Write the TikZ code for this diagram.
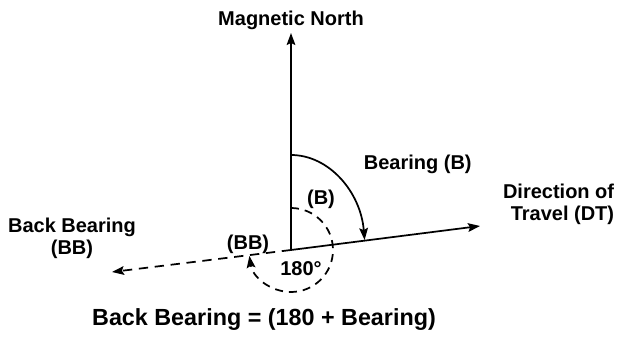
\documentclass[tikz,border=0pt]{standalone}
\usepackage{fontspec}
\setmainfont{Liberation Sans}
\usetikzlibrary{arrows.meta}
\begin{document}
\begin{tikzpicture}[x=0.75pt, y=0.75pt, line width=1.3pt,
    tip/.style = {-{Stealth[length=9pt, width=6.5pt, inset=1.5pt]}},
    lbl/.style = {font=\fontsize{15}{17}\selectfont\bfseries, inner sep=0pt}]
  \useasboundingbox (0,0) rectangle (617,339);
  % origin and the three directions
  \coordinate (O) at (291,89);
  \coordinate (N) at (291,306);
  \coordinate (DT) at (480,113);
  \coordinate (BB) at (112,67);
  \draw [tip] (O) -- (N);
  \draw [tip] (O) -- (DT);
  \draw [tip, dash pattern = on 7pt off 5pt] (O) -- (BB);
  % bearing and back bearing arcs
  \draw [tip] (O) ++(0,95) arc [start angle = 90, end angle = 6,
                                x radius = 74, y radius = 95];
  \draw [tip, dash pattern = on 6pt off 4.5pt] (O) ++(0,42)
    arc [start angle = 90, end angle = -172, radius = 42];
  % labels
  \node [lbl, anchor = base] (mn) at (291,313) {Magnetic North};
  \node [lbl, anchor = base west] (brg) at (363,169) {Bearing (B)};
  \node [lbl, anchor = base] (b) at (321,134) {(B)};
  \node [lbl, anchor = base] (bb) at (248,89) {(BB)};
  \node [lbl, anchor = base] (deg) at (301,64) {180\textdegree};
  \node [lbl, anchor = base east, align = right] (dt) at (615,118)
    {Direction of\\Travel (DT)};
  \node [lbl, anchor = base, align = center] (bbl) at (72,84)
    {Back Bearing\\(BB)};
  \node [lbl, anchor = base, font = \fontsize{17.5}{20}\selectfont\bfseries]
    (eq) at (264,14) {Back Bearing = (180 + Bearing)};
\end{tikzpicture}
\end{document}
